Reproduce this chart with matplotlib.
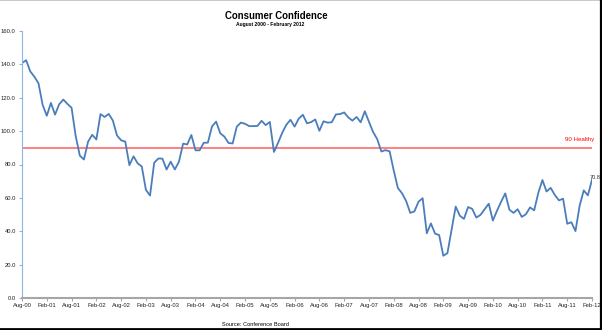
import matplotlib
matplotlib.use("Agg")
import matplotlib.pyplot as plt
from matplotlib.lines import Line2D

plt.rcParams['font.family'] = ['Liberation Sans', 'DejaVu Sans']

# Conference Board consumer confidence, monthly, Aug 2000 - Feb 2012
conf_2000 = [140.8, 142.5, 135.8, 132.6, 128.6]
conf_2001 = [115.7, 109.2, 116.9, 109.9, 116.1, 118.9, 116.3, 114.0, 97.0, 85.3, 83.0, 93.7]
conf_2002 = [97.8, 95.0, 110.2, 108.5, 110.3, 106.3, 97.4, 94.5, 93.7, 79.6, 84.9, 80.7]
conf_2003 = [78.8, 64.8, 61.4, 81.0, 83.6, 83.5, 77.0, 81.7, 77.0, 81.7, 92.5, 92.0]
conf_2004 = [97.7, 88.5, 88.5, 93.0, 93.1, 102.8, 105.7, 98.7, 96.7, 92.9, 92.6, 102.7]
conf_2005 = [105.1, 104.4, 103.0, 103.0, 103.1, 106.2, 103.6, 105.5, 87.5, 93.0, 99.0, 103.8]
conf_2006 = [106.8, 102.7, 107.5, 109.8, 104.7, 105.4, 107.0, 100.2, 105.9, 105.1, 105.3, 110.0]
conf_2007 = [110.2, 111.2, 108.2, 106.3, 108.5, 105.3, 111.9, 105.6, 99.5, 95.2, 87.8, 88.6]
conf_2008 = [87.9, 76.4, 65.9, 62.8, 58.1, 51.0, 51.9, 57.7, 59.8, 38.8, 44.7, 38.6]
conf_2009 = [37.7, 25.3, 26.9, 40.8, 54.8, 49.3, 47.4, 54.5, 53.4, 48.2, 49.8, 53.2]
conf_2010 = [56.5, 46.4, 52.3, 57.7, 62.7, 52.9, 51.0, 53.2, 48.6, 50.2, 54.3, 52.5]
conf_2011 = [63.0, 70.7, 63.8, 66.0, 61.7, 58.5, 59.5, 44.5, 45.4, 40.1, 55.2, 64.5]
conf_2012 = [61.5, 70.8]

tick_labels = ['Aug-00', 'Feb-01', 'Aug-01', 'Feb-02', 'Aug-02', 'Feb-03', 'Aug-03', 'Feb-04',
               'Aug-04', 'Feb-05', 'Aug-05', 'Feb-06', 'Aug-06', 'Feb-07', 'Aug-07', 'Feb-08',
               'Aug-08', 'Feb-09', 'Aug-09', 'Feb-10', 'Aug-10', 'Feb-11', 'Aug-11', 'Feb-12']
y_ticks = [0, 20, 40, 60, 80, 100, 120, 140, 160]
healthy_level = 90

confidence = (conf_2000 + conf_2001 + conf_2002 + conf_2003 + conf_2004 + conf_2005 + conf_2006
              + conf_2007 + conf_2008 + conf_2009 + conf_2010 + conf_2011 + conf_2012)
months = list(range(len(confidence)))

fig = plt.figure(figsize=(6.02, 3.30), dpi=100)
ax = fig.add_axes([22 / 602, 32 / 330, 570 / 602, 267 / 330])

ax.plot(months, confidence, color='#4A7EBB', lw=1.3, solid_joinstyle='round')
ax.axhline(healthy_level, color='#FF8080', lw=1.4, zorder=1)
ax.text(months[-1] + 0.5, healthy_level + 5, f"{healthy_level} Healthy", color='#FF0000',
        fontsize=4.4, ha='right', va='center')
# last value label, kept just inside the right edge
ax.text(months[-1] - 0.6, confidence[-1] + 1.5, f"{confidence[-1]:.1f}", color='#333333',
        fontsize=4.0, ha='left', va='center', clip_on=False)

ax.set_xlim(0, len(confidence) - 1)
ax.set_ylim(0, 160)
ax.set_xticks(months[::6])
ax.set_xticklabels(tick_labels)
ax.set_yticks(y_ticks)
ax.set_yticklabels([f"{v:.1f}" for v in y_ticks])

for side in ['top', 'right']:
    ax.spines[side].set_visible(False)
ax.spines['left'].set_color('#8EB4E3')
ax.spines['left'].set_linewidth(0.8)
ax.spines['bottom'].set_color('#A6A6A6')
ax.spines['bottom'].set_linewidth(1.5)
ax.tick_params(axis='x', labelsize=4.2, length=2, width=0.8, color='#A6A6A6', pad=1.5,
               labelcolor='#222222')
ax.tick_params(axis='y', labelsize=4.2, length=2, width=0.8, color='#8EB4E3', pad=2.5,
               labelcolor='#222222')

fig.text(276 / 602, 1 - 16 / 330, "Consumer Confidence", fontsize=6.9, fontweight='bold',
         ha='center', va='center')
fig.text(270.5 / 602, 1 - 24.7 / 330, "August 2000 - February 2012", fontsize=3.6,
         fontweight='bold', ha='center', va='center')
fig.text(255.5 / 602, 1 - 325 / 330, "Source: Conference Board", fontsize=4.1,
         ha='center', va='center')

# frame around the chart
fig.add_artist(Line2D([0, 1], [0.999, 0.999], color='#C0C0C0', lw=1.2))
fig.add_artist(Line2D([0.998, 0.998], [0, 1], color='black', lw=1.6))
fig.add_artist(Line2D([0, 1], [0.003, 0.003], color='black', lw=2.0))

fig.savefig('out.png', dpi=100)
